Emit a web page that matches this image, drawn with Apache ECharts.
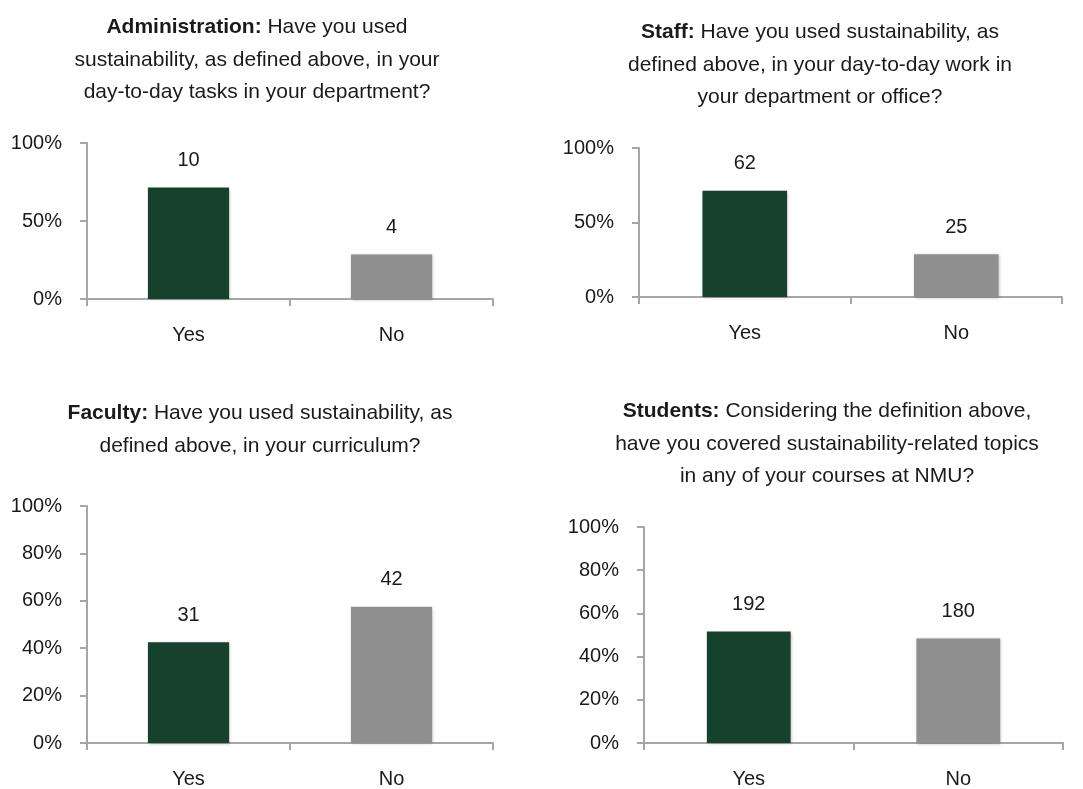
<!DOCTYPE html>
<html>
<head>
<meta charset="utf-8">
<script src="https://cdn.jsdelivr.net/npm/echarts@6/dist/echarts.min.js"></script>
<style>
html,body{margin:0;padding:0;background:#fff;}
#chart{width:1083px;height:789px;}
</style>
</head>
<body>
<div id="chart"></div>
<script>
// ---- data ----
var categories = ['Yes', 'No'];
var adminPct = [71.4, 28.6];
var adminCounts = [10, 4];
var staffPct = [71.3, 28.7];
var staffCounts = [62, 25];
var facultyPct = [42.5, 57.5];
var facultyCounts = [31, 42];
var studentPct = [51.6, 48.4];
var studentCounts = [192, 180];
var titles = [
  ['Administration:', ' Have you used', 'sustainability, as defined above, in your', 'day-to-day tasks in your department?'],
  ['Staff:', ' Have you used sustainability, as', 'defined above, in your day-to-day work in', 'your department or office?'],
  ['Faculty:', ' Have you used sustainability, as', 'defined above, in your curriculum?'],
  ['Students:', ' Considering the definition above,', 'have you covered sustainability-related topics', 'in any of your courses at NMU?']
];

var FONT = '"Liberation Sans", Arial, Helvetica, sans-serif';
var TXT = '#1a1a1a';
var AX = '#a6a6a6';
var GREEN = '#15412d';
var GRAY = '#8f8f8f';

var panels = [
  {pct: adminPct, cnt: adminCounts, grid: {left: 87, top: 143, width: 406, height: 156}, interval: 50, title: {x: 257, y: 11}},
  {pct: staffPct, cnt: staffCounts, grid: {left: 639, top: 148, width: 423, height: 149}, interval: 50, title: {x: 820, y: 16}},
  {pct: facultyPct, cnt: facultyCounts, grid: {left: 87, top: 506, width: 406, height: 239}, interval: 20, title: {x: 260, y: 397}},
  {pct: studentPct, cnt: studentCounts, grid: {left: 644, top: 527, width: 419, height: 217}, interval: 20, title: {x: 827, y: 395}}
];

var grids = [], xAxes = [], yAxes = [], series = [], graphics = [];
panels.forEach(function (p, i) {
  grids.push(Object.assign({containLabel: false}, p.grid));
  xAxes.push({
    type: 'category', gridIndex: i, data: categories,
    axisLine: {lineStyle: {color: AX, width: 2}},
    axisTick: {show: true, length: 7, lineStyle: {color: AX, width: 2}},
    axisLabel: {color: TXT, fontFamily: FONT, fontSize: 20, margin: 26}
  });
  yAxes.push({
    type: 'value', gridIndex: i, min: 0, max: 100, interval: p.interval,
    splitLine: {show: false},
    axisLine: {show: true, lineStyle: {color: AX, width: 2}},
    axisTick: {show: true, length: 7, lineStyle: {color: AX, width: 2}},
    axisLabel: {color: TXT, fontFamily: FONT, fontSize: 20, margin: 25, formatter: '{value}%'}
  });
  series.push({
    type: 'bar', xAxisIndex: i, yAxisIndex: i, barWidth: '40%',
    data: p.pct.map(function (v, j) {
      return {value: v, itemStyle: {color: j === 0 ? GREEN : GRAY}};
    }),
    itemStyle: {shadowColor: 'rgba(0,0,0,0.25)', shadowBlur: 3, shadowOffsetX: 1, shadowOffsetY: 1},
    label: {
      show: true, position: 'top', distance: 17, color: TXT, fontFamily: FONT, fontSize: 20,
      formatter: function (prm) { return String(p.cnt[prm.dataIndex]); }
    },
    silent: true
  });
  var t = titles[i];
  var txt = '{b|' + t[0] + '}{n|' + t[1] + '}';
  for (var k = 2; k < t.length; k++) txt += '\n{n|' + t[k] + '}';
  graphics.push({
    type: 'text', x: p.title.x, y: p.title.y,
    style: {
      text: txt, align: 'center', verticalAlign: 'top',
      rich: {
        b: {fontFamily: FONT, fontSize: 21, fontWeight: 'bold', fill: TXT, color: TXT, lineHeight: 32.5},
        n: {fontFamily: FONT, fontSize: 21, fill: TXT, color: TXT, lineHeight: 32.5}
      }
    }
  });
});

var chart = echarts.init(document.getElementById('chart'), null, {renderer: 'canvas'});
chart.setOption({
  animation: false,
  backgroundColor: '#ffffff',
  grid: grids, xAxis: xAxes, yAxis: yAxes, series: series,
  graphic: graphics
});
</script>
</body>
</html>
